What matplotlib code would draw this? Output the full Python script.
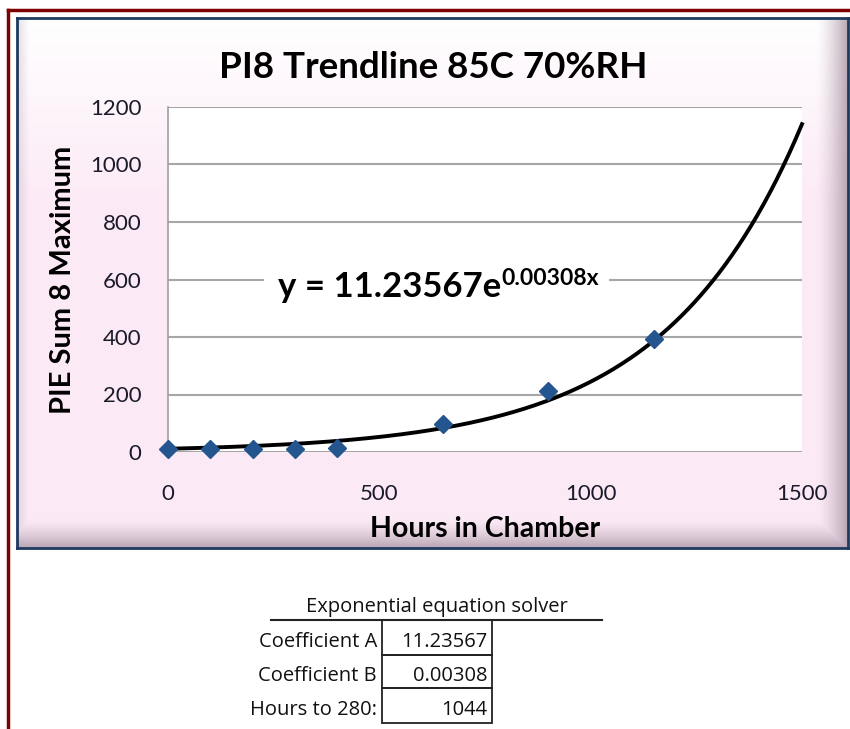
import numpy as np
import matplotlib
matplotlib.use("Agg")
import matplotlib.pyplot as plt
from matplotlib.lines import Line2D
from matplotlib.patches import Rectangle

plt.rcParams['font.family'] = ['Lato', 'DejaVu Sans']

# data
hours = [0, 100, 200, 300, 400, 650, 900, 1150]
pie_max = [12, 11, 11, 9, 14, 97, 212, 392]
coef_a = 11.23567
coef_b = 0.00308
target = 280
x_ticks = [0, 500, 1000, 1500]
y_ticks = [0, 200, 400, 600, 800, 1000, 1200]

W, H = 850, 729
fig = plt.figure(figsize=(W / 100, H / 100), dpi=100)

def fx(px):
    return px / W

def fy(py):
    return 1 - py / H

# chart box background with soft gradient and shadow
bx0, by0, bx1, by1 = 17, 18, 848, 548
bw, bh = bx1 - bx0, by1 - by0
bg = fig.add_axes([fx(bx0), fy(by1), bw / W, bh / H], zorder=0)
yy = np.linspace(0, 1, bh)[:, None]
xx = np.linspace(0, 1, bw)[None, :]
top = np.array([1.0, 1.0, 1.0])
pink = np.array([0.988, 0.918, 0.965])
t = np.clip(yy / 0.35, 0, 1)[..., None]
img = top * (1 - t) + pink * t
img = np.broadcast_to(img, (bh, bw, 3)).copy()
shade_b = np.clip((yy * bh - (bh - 30)) / 30, 0, 1) ** 1.5
shade_r = np.clip((xx * bw - (bw - 32)) / 32, 0, 1) ** 1.5
shade_l = np.clip((12 - xx * bw) / 12, 0, 1) * 0.35
shade = np.maximum(np.maximum(shade_b, shade_r), shade_l)[..., None]
dark = np.array([0.70, 0.62, 0.68])
img = img * (1 - shade * 0.9) + dark * shade * 0.9
bg.imshow(img, aspect='auto', extent=[0, 1, 0, 1])
bg.set_xticks([])
bg.set_yticks([])
for s in bg.spines.values():
    s.set_color('#1F3A60')
    s.set_linewidth(2)

# main plot
ax = fig.add_axes([fx(168), fy(452), (802 - 168) / W, (452 - 107) / H], zorder=2)
ax.set_facecolor('white')
ax.set_xlim(0, 1500)
ax.set_ylim(0, 1200)
ax.set_xticks(x_ticks)
ax.set_yticks(y_ticks)
ax.grid(axis='y', color='#A6A6A6', lw=1.5, zorder=0)
ax.set_axisbelow(True)
for side in ['top', 'right', 'bottom']:
    ax.spines[side].set_visible(False)
ax.spines['left'].set_color('#A0A0A0')
ax.spines['left'].set_linewidth(1.2)
ax.tick_params(length=0, labelsize=16, labelcolor='#1A1A2A')
ax.tick_params(axis='x', pad=23)
ax.tick_params(axis='y', pad=19)

xs = np.linspace(0, 1500, 300)
ax.plot(xs, coef_a * np.exp(coef_b * xs), color='black', lw=2.8, zorder=3,
        clip_on=False)
ax.plot(hours, pie_max, 'D', color='#24558F', markersize=9.5, zorder=4,
        clip_on=False)

# trendline equation label
eq = ax.text(260, 539, 'y = %.5fe' % coef_a, fontsize=25, fontweight='bold',
             va='baseline', ha='left', zorder=6)
sup = ax.annotate('%.5fx' % coef_b, xy=(1, 1), xycoords=eq,
                  xytext=(0.5, 2), textcoords='offset points', fontsize=16.5,
                  fontweight='bold', va='top', ha='left', zorder=6)
fig.canvas.draw()
inv = ax.transData.inverted()
b1 = eq.get_window_extent()
b2 = sup.get_window_extent()
(x0, y0) = inv.transform((b1.x0 - 14, b1.y0))
(x1, y1) = inv.transform((b2.x1 + 10, b1.y1))
ax.add_patch(Rectangle((x0, y0), x1 - x0, y1 - y0, facecolor='white',
                       edgecolor='none', zorder=1))

fig.text(fx(433), fy(78), 'PI8 Trendline 85C 70%RH', fontsize=26.5,
         fontweight='bold', ha='center', va='baseline', zorder=3)
fig.text(fx(485), fy(537), 'Hours in Chamber', fontsize=20.5,
         fontweight='bold', ha='center', va='baseline', zorder=3)
fig.text(fx(63), fy(280), 'PIE Sum 8 Maximum', fontsize=21,
         fontweight='bold', ha='center', va='center', rotation=90, zorder=3)

# outer dark red frame
fig.add_artist(Line2D([fx(8), 1], [fy(10), fy(10)], color='#7F0000', lw=2.5))
fig.add_artist(Line2D([fx(8), fx(8)], [0, fy(10)], color='#7F0000', lw=2.5))

# equation solver table
tfont = ['Open Sans', 'DejaVu Sans']
hours_to_target = np.log(target / coef_a) / coef_b
rows = ['Coefficient A', 'Coefficient B', 'Hours to %d:' % target]
vals = ['%.5f' % coef_a, '%.5f' % coef_b, '%d' % round(hours_to_target)]
fig.text(fx(437), fy(612), 'Exponential equation solver', fontsize=14.5,
         ha='center', va='baseline', color='#111111', family=tfont)
fig.add_artist(Line2D([fx(271), fx(602)], [fy(620), fy(620)],
                      color='#222222', lw=1.5))
row_edges = [620, 655, 688, 723]
baselines = [647, 681, 715]
for i in range(3):
    y0, y1 = row_edges[i], row_edges[i + 1]
    fig.add_artist(Rectangle((fx(382), fy(y1)), (492 - 382) / W, (y1 - y0) / H,
                             transform=fig.transFigure, fill=False,
                             edgecolor='#222222', lw=1.3))
    fig.text(fx(377), fy(baselines[i]), rows[i], fontsize=14.5, ha='right',
             va='baseline', color='#111111', family=tfont)
    fig.text(fx(487), fy(baselines[i]), vals[i], fontsize=14.5, ha='right',
             va='baseline', color='#111111', family=tfont)

fig.savefig('out.png', dpi=100)
